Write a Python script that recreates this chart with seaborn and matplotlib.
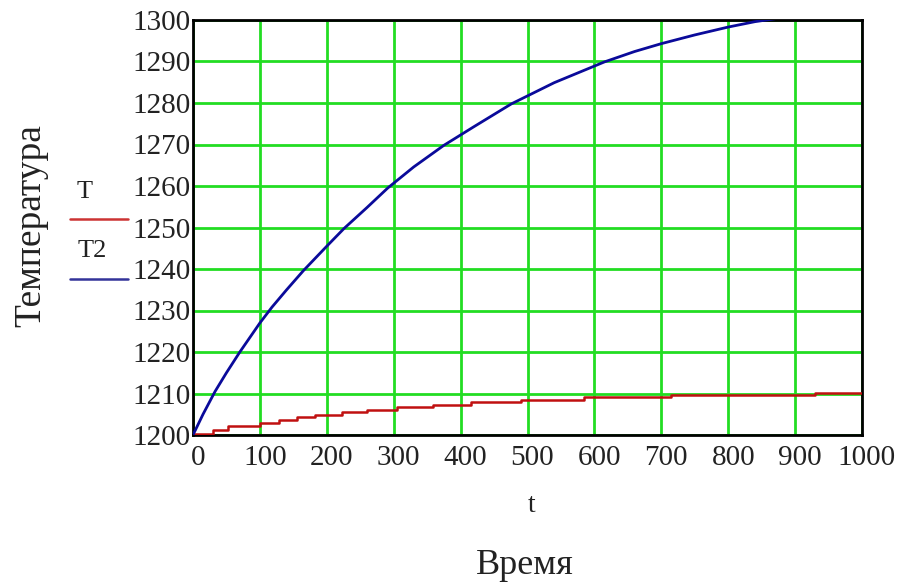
import matplotlib
matplotlib.use("Agg")
import matplotlib.pyplot as plt
from matplotlib.lines import Line2D
from matplotlib.transforms import ScaledTranslation
import seaborn as sns
import pandas as pd

# Heating curves: time (s) vs temperature
t_T = [0, 30, 53, 100, 128, 155, 183, 223, 260, 305, 358, 415, 490, 584, 715, 930, 1000]
T_vals = [1200.3, 1201.2, 1202.2, 1203.0, 1203.7, 1204.3, 1204.9, 1205.5, 1206.1,
          1206.7, 1207.3, 1207.9, 1208.5, 1209.1, 1209.7, 1210.2, 1210.2]

t_T2 = [0, 15, 33, 50, 70, 100, 118, 140, 165, 200, 226, 260, 291, 330, 375,
        420, 476, 540, 615, 660, 700, 750, 800, 840, 870]
T2_vals = [1200, 1205, 1210.5, 1215, 1220, 1227, 1230.8, 1235, 1239.6, 1245.5, 1249.8,
           1254.8, 1259.5, 1264.6, 1269.8, 1274.3, 1279.8, 1284.9, 1289.9, 1292.4,
           1294.3, 1296.4, 1298.3, 1299.6, 1300.3]

x_ticks = [0, 100, 200, 300, 400, 500, 600, 700, 800, 900, 1000]
y_ticks = [1200, 1210, 1220, 1230, 1240, 1250, 1260, 1270, 1280, 1290, 1300]

red = "#c01010"
blue = "#0a0a9a"
grid_green = "#22dd22"
ink = "#222222"

sns.set_style("white")
plt.rcParams["font.family"] = ["Liberation Serif", "DejaVu Serif"]

fig = plt.figure(figsize=(8.98, 5.84), dpi=100)
ax = fig.add_axes([193 / 898, 1 - 435 / 584, (862 - 193) / 898, (435 - 20) / 584])

df_T = pd.DataFrame({"t": t_T, "T": T_vals})
df_T2 = pd.DataFrame({"t": t_T2, "T2": T2_vals})

sns.lineplot(data=df_T, x="t", y="T", ax=ax, color=red, lw=1.8,
             drawstyle="steps-post", estimator=None, sort=False, zorder=3)
sns.lineplot(data=df_T2, x="t", y="T2", ax=ax, color=blue, lw=2.0,
             estimator=None, sort=False, zorder=4)

ax.set_xlim(0, 1000)
ax.set_ylim(1200, 1300)
ax.set_xticks(x_ticks)
ax.set_yticks(y_ticks)
ax.set_xticklabels([str(v) for v in x_ticks])
ax.set_yticklabels([str(v) for v in y_ticks])
ax.grid(True, color=grid_green, lw=2.0, zorder=1)
ax.set_axisbelow(True)
ax.tick_params(axis="both", length=0, labelsize=21, colors=ink)
ax.tick_params(axis="x", pad=7)
ax.tick_params(axis="y", pad=2)
shift = ScaledTranslation(5 / 100, 0, fig.dpi_scale_trans)
for lbl in ax.get_xticklabels():
    lbl.set_transform(lbl.get_transform() + shift)
for s in ax.spines.values():
    s.set_color("black")
    s.set_linewidth(2.0)
    s.set_visible(True)

ax.set_xlabel("")
ax.set_ylabel("")

# axis captions
fig.text(532 / 898, 1 - 506 / 584, "t", ha="center", va="center", fontsize=20, color=ink)
fig.text(525 / 898, 1 - 566 / 584, "Время", ha="center", va="center", fontsize=26, color=ink)
fig.text(31 / 898, 1 - 226 / 584, "Температура", ha="center", va="center",
         rotation=90, fontsize=27, color=ink)

# series key
fig.text(85 / 898, 1 - 192 / 584, "T", ha="center", va="center", fontsize=19, color=ink)
fig.add_artist(Line2D([70 / 898, 128 / 898], [1 - 219 / 584, 1 - 219 / 584],
                      color="#cc3333", lw=1.8, transform=fig.transFigure))
fig.text(92 / 898, 1 - 251 / 584, "T2", ha="center", va="center", fontsize=19, color=ink)
fig.add_artist(Line2D([70 / 898, 128 / 898], [1 - 279 / 584, 1 - 279 / 584],
                      color="#333399", lw=1.8, transform=fig.transFigure))

fig.savefig("out.png", dpi=100, facecolor="white")
